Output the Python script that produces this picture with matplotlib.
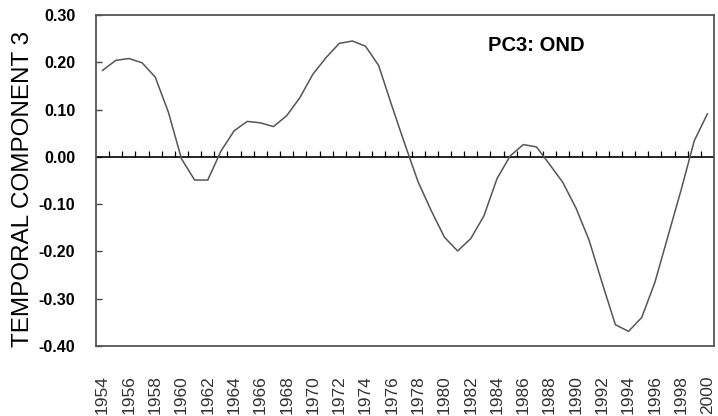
import numpy as np
import matplotlib as mpl
import matplotlib.pyplot as plt

mpl.rcParams.update({
    "font.family": ["Liberation Sans", "DejaVu Sans"],
    "axes.unicode_minus": False,
})

# third principal component, Oct-Nov-Dec season
years = np.arange(1954, 2001)
pc3 = [0.183, 0.204, 0.208, 0.199, 0.169, 0.095, -0.004, -0.049, -0.049, 0.012,
       0.055, 0.075, 0.072, 0.064, 0.087, 0.125, 0.175, 0.210, 0.240, 0.245,
       0.234, 0.193, 0.108, 0.026, -0.053, -0.114, -0.170, -0.199, -0.173, -0.125,
       -0.046, 0.002, 0.026, 0.021, -0.016, -0.054, -0.108, -0.176, -0.267, -0.355,
       -0.369, -0.340, -0.266, -0.168, -0.070, 0.034, 0.091]

y_ticks = [0.30, 0.20, 0.10, 0.00, -0.10, -0.20, -0.30, -0.40]
y_tick_labels = ["0.30", "0.20", "0.10", "0.00", "-0.10", "-0.20", "-0.30", "-0.40"]
x_label_years = years[::2]

fig = plt.figure(figsize=(7.18, 4.16), dpi=100)
ax = fig.add_axes([0.1337, 0.1683, 0.8607, 0.7956])

ax.plot(years, pc3, color="#555555", linewidth=1.1, zorder=3)

# zero line with small upward ticks between the years
ax.axhline(0, color="black", linewidth=1.2, zorder=2)
ax.vlines(years[:-1] + 0.5, 0, 0.012, color="black", linewidth=0.9, zorder=2)

ax.set_xlim(1953.5, 2000.5)
ax.set_ylim(-0.40, 0.30)

ax.set_yticks(y_ticks)
ax.set_yticklabels(y_tick_labels, fontsize=11.5, fontweight="bold",
                   family=["Liberation Sans Narrow", "Liberation Sans"])
ax.tick_params(axis="y", direction="in", length=4, width=1.0, color="#444444", pad=15)

ax.set_xticks(x_label_years)
ax.set_xticklabels([str(y) for y in x_label_years], rotation=90, fontsize=12.5,
                   color="#333333")
ax.tick_params(axis="x", length=0, pad=21)

for sp in ax.spines.values():
    sp.set_color("#555555")
    sp.set_linewidth(1.3)

fig.text(536 / 718, 1 - 45.5 / 416, "PC3: OND", fontsize=14.5, fontweight="bold",
         ha="center", va="center")

fig.text(23 / 718, 1 - 189 / 416, "TEMPORAL COMPONENT 3", fontsize=17.5,
         rotation=90, ha="center", va="center")

fig.savefig("out.png", dpi=100)
